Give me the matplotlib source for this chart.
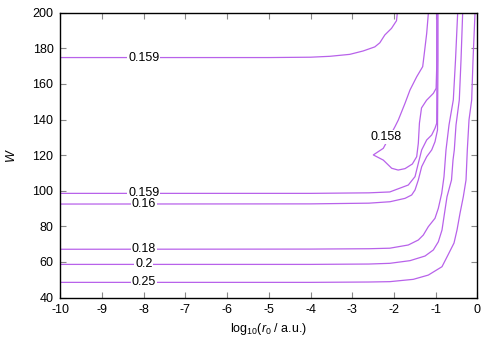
import numpy as np
import matplotlib
matplotlib.use("Agg")
import matplotlib.pyplot as plt

plt.rcParams['font.family'] = ['Liberation Sans', 'DejaVu Sans']
plt.rcParams['mathtext.fontset'] = 'custom'
plt.rcParams['mathtext.rm'] = 'Liberation Sans'
plt.rcParams['mathtext.it'] = 'Liberation Sans:italic'
plt.rcParams['axes.unicode_minus'] = False

# contour levels (label text) and their traced paths (log10 r0, W)
lvl_159_top = "0.159"
x_159_top = [-10, -5, -4, -3.54, -3.06, -2.74, -2.46, -2.34, -2.22, -2.06, -1.94, -1.92]
w_159_top = [174.8, 174.8, 175.0, 175.5, 176.6, 178.5, 180.8, 183.1, 187.5, 191.2, 195.5, 200]

lvl_158 = "0.158"
x_158 = [-1.175, -1.216, -1.273, -1.312, -1.456, -1.616, -1.736, -1.897, -1.976, -2.257, -2.496,
         -2.257, -2.055, -1.90, -1.736, -1.56, -1.456, -1.417, -1.39, -1.34, -1.22, -1.056,
         -0.99, -0.975, -0.972]
w_158 = [200, 188.4, 177.2, 169.7, 164.0, 156.6, 149.1, 139.7, 136.0, 123.8, 120.1,
         117.2, 112.6, 111.6, 112.4, 115.0, 119.1, 126.6, 138.0, 146.5, 150.8, 154.7,
         157.5, 170, 200]

lvl_159_low = "0.159"
x_159_low = [-10, -4, -2.6, -2.1, -1.976, -1.657, -1.496, -1.417, -1.336, -1.216, -1.096,
             -1.017, -0.976, -0.968, -0.968]
w_159_low = [98.5, 98.5, 98.8, 99.3, 100.4, 103.2, 107.9, 115.4, 122.9, 128.5, 131.3,
             135.1, 137.9, 173.4, 200]

lvl_16 = "0.16"
x_16 = [-10, -4, -2.6, -2.096, -1.736, -1.576, -1.496, -1.417, -1.336, -1.216, -1.096,
        -1.017, -0.957, -0.945, -0.945]
w_16 = [92.5, 92.6, 93.0, 93.8, 95.7, 97.6, 100.4, 106.0, 113.5, 119.1, 122.9,
        127.5, 134.1, 173.4, 200]

lvl_18 = "0.18"
x_18 = [-10, -4, -2.6, -2.1, -1.657, -1.417, -1.297, -1.177, -1.017, -0.937, -0.856,
        -0.801, -0.753, -0.681, -0.578, -0.525, -0.473]
w_18 = [67.1, 67.2, 67.4, 67.7, 69.5, 72.3, 75.1, 79.8, 84.5, 90.1, 98.5,
        107.9, 122.9, 136.9, 151.0, 173.4, 200]

lvl_2 = "0.2"
x_2 = [-10, -4, -2.6, -2.1, -1.616, -1.256, -1.057, -0.937, -0.849, -0.789, -0.729,
       -0.621, -0.585, -0.554, -0.513, -0.434, -0.393, -0.353]
w_2 = [58.6, 58.6, 58.8, 59.2, 60.7, 63.3, 66.7, 71.3, 77.9, 87.3, 96.6,
       106.0, 117.2, 122.9, 136.9, 151.0, 173.4, 200]

lvl_25 = "0.25"
x_25 = [-10, -4, -2.6, -2.1, -1.537, -1.177, -0.849, -0.705, -0.561, -0.489, -0.417,
        -0.338, -0.273, -0.242, -0.201, -0.137, -0.105, -0.057]
w_25 = [48.5, 48.5, 48.7, 48.9, 50.2, 52.6, 57.3, 63.9, 70.6, 77.9, 87.3,
        96.6, 106.0, 122.9, 139.8, 151.0, 173.4, 200]

# label anchor points
lab_x = -8
lab_158_x, lab_158_w = -2.19, 130.0

curves = [
    (x_159_top, w_159_top, lvl_159_top),
    (x_159_low, w_159_low, lvl_159_low),
    (x_16, w_16, lvl_16),
    (x_18, w_18, lvl_18),
    (x_2, w_2, lvl_2),
    (x_25, w_25, lvl_25),
]

fig = plt.figure(figsize=(5, 3.5), dpi=100)
ax = fig.add_axes([0.1208, 0.15, 0.834, 0.8137])

line_col = '#b862ea'
for xs, ws, lab in curves:
    ax.plot(xs, ws, color=line_col, lw=0.9)
    ax.text(lab_x, np.interp(lab_x, xs, ws), lab, ha='center', va='center', fontsize=9,
            bbox=dict(fc='white', ec='none', pad=0.6), zorder=5)

ax.plot(x_158, w_158, color=line_col, lw=0.9)
ax.text(lab_158_x, lab_158_w, lvl_158, ha='center', va='center', fontsize=9,
        bbox=dict(fc='white', ec='none', pad=0.6), zorder=5)

ax.set_xlim(-10, 0)
ax.set_ylim(40, 200)
ax.set_xticks(np.arange(-10, 1, 1))
ax.set_yticks(np.arange(40, 201, 20))
ax.tick_params(direction='in', top=True, right=True, length=4, width=0.8,
               color='#888888', labelsize=9, pad=5)
for s in ax.spines.values():
    s.set_linewidth(1.0)

ax.set_xlabel(r'log$_{10}$($r_0$ / a.u.)', fontsize=9, labelpad=3)
ax.set_ylabel('W', fontsize=9, style='italic', labelpad=11)

fig.savefig("out.png", dpi=100)
